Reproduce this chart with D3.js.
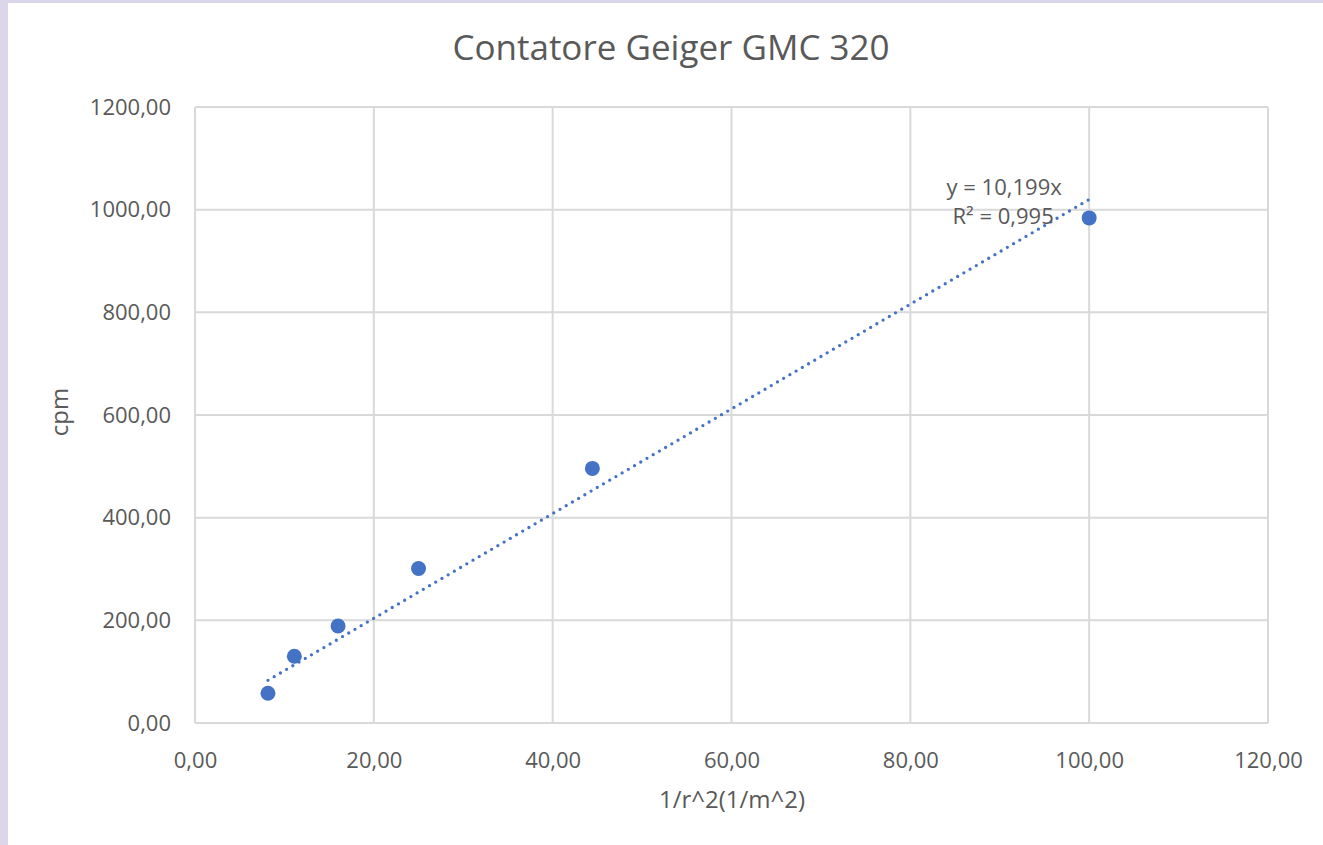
<!DOCTYPE html>
<html>
<head>
<meta charset="utf-8">
<script src="https://cdn.jsdelivr.net/npm/d3@7"></script>
<style>
  body { margin: 0; background: #ffffff; }
  text { font-family: "Open Sans", "Noto Sans", sans-serif; fill: #595959; }
</style>
</head>
<body>
<div id="chart"></div>
<script>
'use strict';

// dati
var titolo = 'Contatore Geiger GMC 320';
var xValori = [8.16, 11.11, 16.00, 25.00, 44.44, 100.00];
var yValori = [58, 130, 189, 301, 496, 984];
var xTicks = [0, 20, 40, 60, 80, 100, 120];
var yTicks = [0, 200, 400, 600, 800, 1000, 1200];
var pendenza = 10.199;
var etichettaEq = 'y = 10,199x';
var etichettaR2 = 'R² = 0,995';
var xTitolo = '1/r^2(1/m^2)';
var yTitolo = 'cpm';

var grafico = {};
grafico.w = 1323;
grafico.h = 845;
grafico.margins = {top: 107, bottom: 122, left: 195, right: 55};
grafico.cw = grafico.w - grafico.margins.left - grafico.margins.right;
grafico.ch = grafico.h - grafico.margins.top - grafico.margins.bottom;

var fmt = function (v) { return d3.format('.2f')(v).replace('.', ','); };

var svg = d3.select('#chart').append('svg')
    .attr('width', grafico.w)
    .attr('height', grafico.h);

// cornice lilla
svg.append('rect').attr('x', 0).attr('y', 0).attr('width', grafico.w).attr('height', grafico.h).attr('fill', '#dcd6ea');
svg.append('rect').attr('x', 8).attr('y', 3).attr('width', grafico.w - 8).attr('height', grafico.h - 3).attr('fill', '#ffffff');

var xScale = d3.scaleLinear().domain([0, 120]).range([0, grafico.cw]);
var yScale = d3.scaleLinear().domain([0, 1200]).range([grafico.ch, 0]);

var g = svg.append('g')
    .attr('transform', 'translate(' + grafico.margins.left + ',' + grafico.margins.top + ')');

// griglia
g.append('g').selectAll('line').data(xTicks).enter().append('line')
    .attr('x1', function (d) { return xScale(d); })
    .attr('x2', function (d) { return xScale(d); })
    .attr('y1', 0).attr('y2', grafico.ch)
    .attr('stroke', '#d9d9d9').attr('stroke-width', 2);
g.append('g').selectAll('line').data(yTicks).enter().append('line')
    .attr('y1', function (d) { return yScale(d); })
    .attr('y2', function (d) { return yScale(d); })
    .attr('x1', 0).attr('x2', grafico.cw)
    .attr('stroke', '#d9d9d9').attr('stroke-width', 2);

// assi
var xAxis = d3.axisBottom(xScale).tickValues(xTicks).tickFormat(fmt).tickSize(0).tickPadding(29);
var yAxis = d3.axisLeft(yScale).tickValues(yTicks).tickFormat(fmt).tickSize(0).tickPadding(24);
var xg = g.append('g').attr('transform', 'translate(0,' + grafico.ch + ')').call(xAxis);
var yg = g.append('g').call(yAxis);
xg.select('.domain').remove();
yg.select('.domain').remove();
xg.selectAll('text').style('font-size', '22px').attr('fill', '#595959');
yg.selectAll('text').style('font-size', '22px').attr('fill', '#595959');
svg.selectAll('.tick text').attr('font-family', null);

// linea di tendenza
var xMin = d3.min(xValori), xMax = d3.max(xValori);
g.append('line')
    .attr('x1', xScale(xMin)).attr('y1', yScale(pendenza * xMin))
    .attr('x2', xScale(xMax)).attr('y2', yScale(pendenza * xMax))
    .attr('stroke', '#4472c4')
    .attr('stroke-width', 3.3)
    .attr('stroke-linecap', 'round')
    .attr('stroke-dasharray', '0,7.2');

// punti
var punti = xValori.map(function (x, i) { return {x: x, y: yValori[i]}; });
g.selectAll('.punto').data(punti).enter().append('circle')
    .attr('class', 'punto')
    .attr('cx', function (d) { return xScale(d.x); })
    .attr('cy', function (d) { return yScale(d.y); })
    .attr('r', 7.5)
    .attr('fill', '#4472c4');

// etichetta equazione
var lx = xScale(xMax) - 85, ly = yScale(pendenza * xMax) - 4;
g.append('text').attr('x', lx).attr('y', ly).attr('text-anchor', 'middle')
    .style('font-size', '22px').text(etichettaEq);
g.append('text').attr('x', lx - 1).attr('y', ly + 29).attr('text-anchor', 'middle')
    .style('font-size', '22px').text(etichettaR2);

// titoli
svg.append('text').attr('x', 671).attr('y', 60).attr('text-anchor', 'middle')
    .style('font-size', '35px').text(titolo);
svg.append('text').attr('x', 732).attr('y', 808).attr('text-anchor', 'middle')
    .style('font-size', '24px').text(xTitolo);
svg.append('text').attr('transform', 'translate(68,' + 412 + ') rotate(-90)')
    .attr('text-anchor', 'middle')
    .style('font-size', '24px').text(yTitolo);
</script>
</body>
</html>
